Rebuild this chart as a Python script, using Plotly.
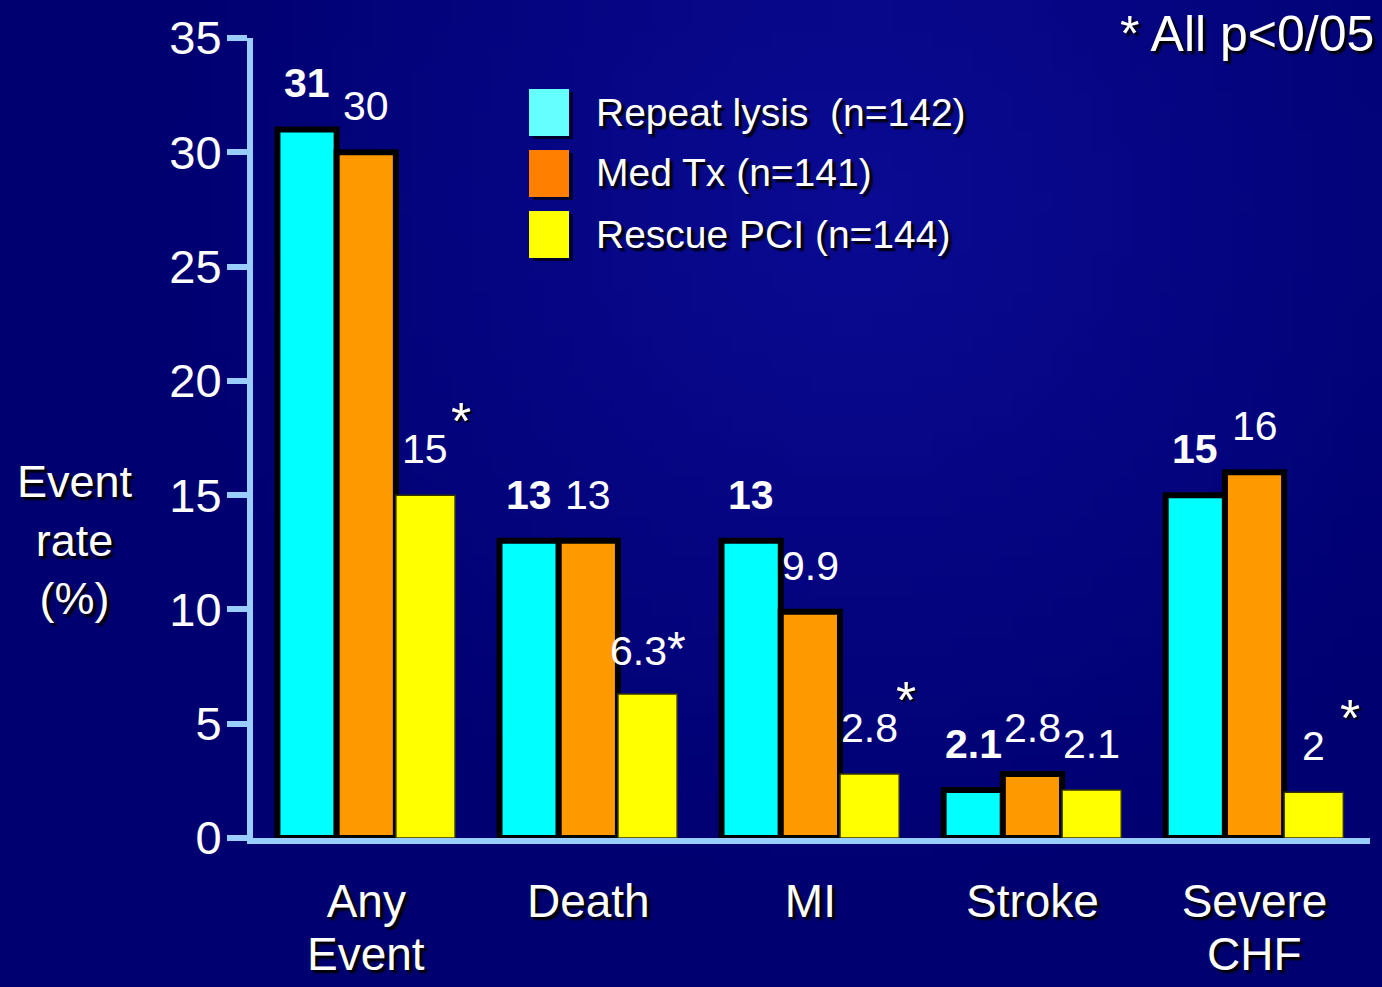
import base64, struct, zlib
import plotly.graph_objects as go

# ---------------- data ----------------
categories = ["Any<br>Event", "Death", "MI", "Stroke", "Severe<br>CHF"]
series_names = ["Repeat lysis  (n=142)", "Med Tx (n=141)", "Rescue PCI (n=144)"]
repeat_lysis = [31, 13, 13, 2.1, 15]
med_tx = [30, 13, 9.9, 2.8, 16]
rescue_pci = [15, 6.3, 2.8, 2.1, 2]
rescue_inline_suffix = ["", "*", "", "", ""]
rescue_raised_star = [True, False, True, False, True]
y_ticks = [0, 5, 10, 15, 20, 25, 30, 35]
footnote = "* All p<0/05"
y_title = "Event<br>rate<br>(%)"

bar_colors = ["#00ffff", "#ff9900", "#ffff00"]
legend_colors = ["#66ffff", "#ff8000", "#ffff00"]
outline_colors = ["#000000", "#000000", "#333300"]
outline_widths = [6, 6, 1.5]

# ---------------- geometry ----------------
W, H = 1382, 987
ML, MR, MT, MB = 253, 12, 38, 149
PW, PH = W - ML - MR, H - MT - MB

def px_x(p):
    return (p - ML) / PW

def px_y(p):
    return (H - MB - p) / PH

FONT = "Liberation Sans, Arial, Helvetica, sans-serif"
SHADOW = "3px 3px 2px #000000"

# ---------------- background gradient image ----------------
def make_bg(w=69, h=49):
    rows = []
    cx, cy = 0.62, 0.2
    for j in range(h):
        row = bytearray([0])
        for i in range(w):
            dx = (i / (w - 1) - cx) * 1.4
            dy = (j / (h - 1) - cy)
            d = (dx * dx + dy * dy) ** 0.5
            t = max(0.0, 1 - d / 0.75)
            r = int(0 + 11 * t)
            g = int(0 + 11 * t)
            b = int(112 + 36 * t)
            row += bytes([r, g, b])
        rows.append(bytes(row))
    raw = b"".join(rows)

    def chunk(tag, data):
        c = struct.pack(">I", len(data)) + tag + data
        return c + struct.pack(">I", zlib.crc32(tag + data) & 0xffffffff)

    png = b"\x89PNG\r\n\x1a\n" + chunk(b"IHDR", struct.pack(">IIBBBBB", w, h, 8, 2, 0, 0, 0)) \
        + chunk(b"IDAT", zlib.compress(raw, 9)) + chunk(b"IEND", b"")
    return "data:image/png;base64," + base64.b64encode(png).decode()

# ---------------- figure ----------------
fig = go.Figure()
series = [repeat_lysis, med_tx, rescue_pci]
x_idx = list(range(len(categories)))
for j, vals in enumerate(series):
    fig.add_trace(go.Bar(
        x=x_idx, y=vals, name=series_names[j],
        marker=dict(color=bar_colors[j], line=dict(color=outline_colors[j], width=outline_widths[j])),
        showlegend=False, hoverinfo="skip",
    ))

bar_w = 0.8 / 3
annotations = []
shapes = []

# value labels
for j, vals in enumerate(series):
    off = (j - 1) * bar_w
    for i, v in enumerate(vals):
        txt = f"{v:g}"
        if j == 2 and rescue_inline_suffix[i]:
            txt += f"<span style='font-size:48px'>{rescue_inline_suffix[i]}</span>"
        annotations.append(dict(
            x=i + off, y=v, xref="x", yref="y", text=txt, showarrow=False,
            yshift=46, yanchor="middle", xanchor="center",
            font=dict(family=FONT, size=41, color="white", weight="bold" if j == 0 else "normal"),
        ))
        if j == 2 and rescue_raised_star[i]:
            annotations.append(dict(
                x=i + off, y=v, xref="x", yref="y", text="*", showarrow=False,
                yshift=74, xshift=36, yanchor="middle", xanchor="center",
                font=dict(family=FONT, size=52, color="white", shadow="2px 2px 1px #000000"),
            ))

# second line of category labels
for i, c in enumerate(categories):
    parts = c.split("<br>")
    if len(parts) > 1:
        annotations.append(dict(
            x=i, y=0, xref="x", yref="y", text=parts[1], showarrow=False,
            yshift=-116, yanchor="middle", xanchor="center",
            font=dict(family=FONT, size=46, color="white", shadow=SHADOW),
        ))

# y title
annotations.append(dict(
    x=px_x(75), y=px_y(540), xref="paper", yref="paper", text=y_title, showarrow=False,
    xanchor="center", yanchor="middle", align="center",
    font=dict(family=FONT, size=45, color="white", shadow=SHADOW),
))

# footnote
annotations.append(dict(
    x=px_x(1376), y=px_y(34), xref="paper", yref="paper", text=footnote, showarrow=False,
    xanchor="right", yanchor="middle",
    font=dict(family=FONT, size=50, color="white", shadow=SHADOW),
))

# manual legend
for j, name in enumerate(series_names):
    cy = 112 + 61 * j
    shapes.append(dict(type="rect", xref="paper", yref="paper",
                       x0=px_x(533), x1=px_x(573), y0=px_y(cy + 27), y1=px_y(cy - 20),
                       fillcolor="#000030", line=dict(width=0), layer="above"))
    shapes.append(dict(type="rect", xref="paper", yref="paper",
                       x0=px_x(529), x1=px_x(569), y0=px_y(cy + 24), y1=px_y(cy - 23),
                       fillcolor=legend_colors[j], line=dict(width=0), layer="above"))
    annotations.append(dict(
        x=px_x(594), y=px_y(cy), xref="paper", yref="paper", text=name, showarrow=False,
        xanchor="left", yanchor="middle",
        font=dict(family=FONT, size=39, color="white", shadow=SHADOW),
    ))

fig.update_layout(
    width=W, height=H,
    margin=dict(l=ML, r=MR, t=MT, b=MB, pad=0),
    paper_bgcolor="#000070",
    plot_bgcolor="rgba(0,0,0,0)",
    barmode="group", bargap=0.2, bargroupgap=0,
    showlegend=False,
    annotations=annotations,
    shapes=shapes,
    images=[dict(source=make_bg(), xref="paper", yref="paper",
                 x=px_x(0), y=px_y(0), sizex=W / PW, sizey=H / PH,
                 sizing="stretch", layer="below", xanchor="left", yanchor="top")],
    xaxis=dict(
        range=[-0.51, 4.52], tickvals=x_idx,
        ticktext=[c.split("<br>")[0] for c in categories],
        showline=True, linecolor="#99ccff", linewidth=6,
        showgrid=False, zeroline=False, ticks="",
        tickfont=dict(family=FONT, size=46, color="white", shadow=SHADOW),
        ticklabelstandoff=18,
    ),
    yaxis=dict(
        range=[0, 35], tickvals=y_ticks,
        showline=True, linecolor="#99ccff", linewidth=6,
        ticks="outside", ticklen=20, tickwidth=6, tickcolor="#99ccff",
        showgrid=False, zeroline=False,
        tickfont=dict(family=FONT, size=47, color="white"),
        ticklabelstandoff=-4,
    ),
)

fig.write_html("out.html")
